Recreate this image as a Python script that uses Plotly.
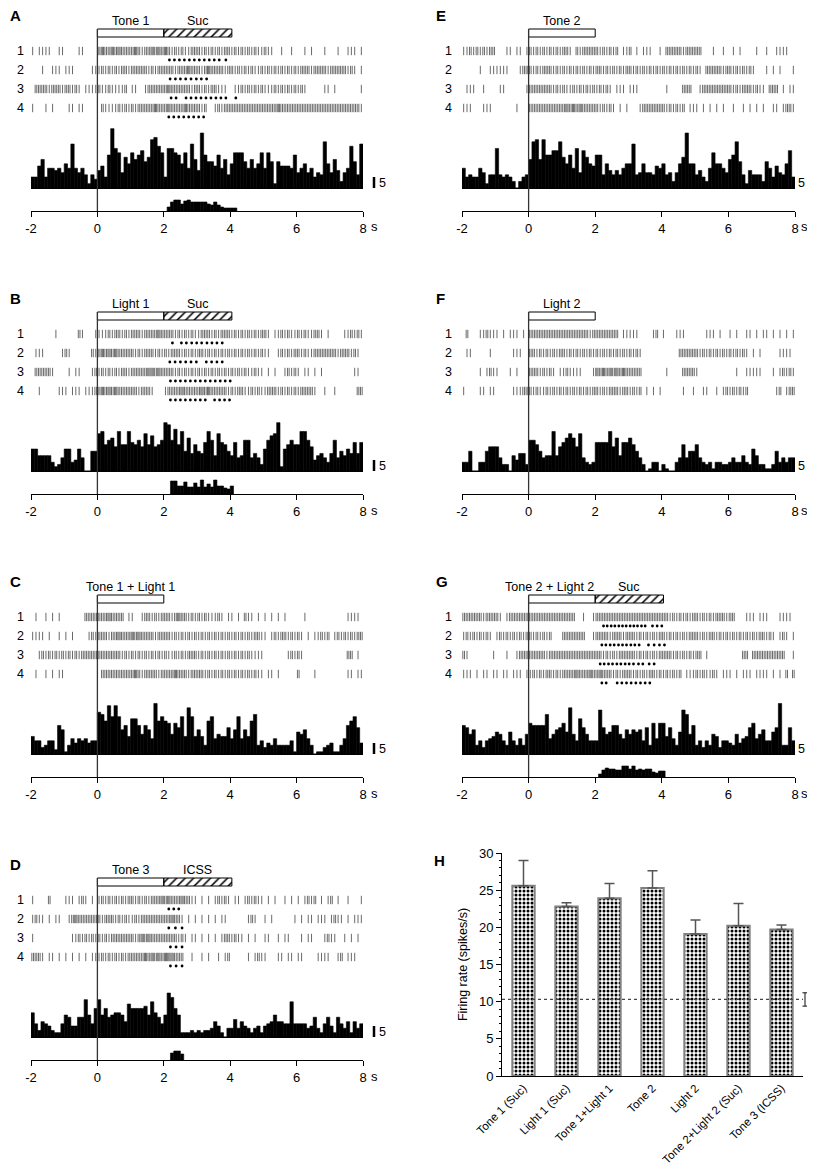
import plotly.graph_objects as go

# ---------------- DATA ----------------
BIN_W = 0.1
T0 = -2.0

# raster rows: each digit = number of spikes in a 0.1 s bin, from -2 s to 8 s (10 groups of 10 bins)
raster_A = [
    "1011110011 0000110000 2322323222 2321223232 3212121122 2121212122 1212121211 2110010010 0010100010 0010011101",
    "0001001110 1110000011 1212121221 2222212122 2221222322 2123222212 2121212112 1212121212 1222122221 2222212101",
    "0222212221 2212101111 2112111120 1100122222 2322222212 2121221110 0112121212 1112121212 1210000011 0100000001",
    "1000101000 0110110000 0211112121 2122222322 2322223222 2120012122 2222222222 2222322222 2222222222 2222222221",
]
raster_B = [
    "0000000100 0000210001 1112122121 2221222232 2221212121 1222121222 1212121212 2101121211 2121122101 0000112121",
    "0111000001 2100000021 2323232222 2121222121 2122212121 2212121212 1212121212 1100121212 2121122222 2212221210",
    "0222221000 0101100012 1212121221 2222233232 2221212121 2121212121 2121211211 0101001212 1011010100 0000000110",
    "0010000011 1011101112 2323232222 2212221000 1222232222 2323222221 2122112121 1222121212 1222210010 0100000022",
]
raster_C = [
    "0100101010 0000002222 2223222201 1001221212 2212322121 2121112101 1010211010 1010101000 0010000000 0000011110",
    "1111010010 1010000121 2221223222 3232222122 2212121212 1212121212 1212121221 1012122121 2101011212 0121212122",
    "0012121212 1212122222 2222222121 2121212121 2112121222 1212121212 1212121111 0000000121 2100000000 0000022010",
    "0100101011 0000000000 0222222222 2321222212 2223222122 2212121212 1212121211 0110100000 2000010000 0000011011",
]
raster_D = [
    "1000020000 1110121010 1212121212 2121212223 2322232211 0101012121 0110121211 0101001010 1012120101 2010010001",
    "1211010110 0123222222 2122212121 1212222222 2232210101 0101010110 0000012100 1010000001 0101101110 1211010111",
    "1000000000 0011212121 2121222222 2123232222 2222121011 0101010122 1211010100 1100101100 0101100012 1100101010",
    "2221011010 1010101011 1212121212 2222323232 3332220010 0101001012 0000010121 1000110110 1100001111 0012011100",
]
raster_E = [
    "1121212122 0001101101 2121212121 2210212222 2121212011 2010111001 0222221222 2200010010 0101000010 0100111100",
    "0000010011 1111000122 2121222121 2121212121 2212121212 2121212121 2121212121 2102222212 2121212100 0101010001",
    "0111001000 0110000001 2222222121 2112121212 1212101110 1110000000 0100002220 0122222222 2121222121 1022201011",
    "1110001110 0000001000 2222222222 2323232222 2121210101 0001222222 2121212011 1010101010 0100101010 1001101221",
]
raster_F = [
    "0200011211 1010111010 2222222222 2222222212 2222222011 1110000120 1000111000 0001110100 1010011010 1101010101",
    "0110000010 0000011100 2212121212 2121212121 2121212121 2121000000 0000022222 2121212121 2121210101 0000011110",
    "0000010121 1000101000 2221212101 1211110001 3232323232 2222000000 0100002222 1000000000 0010011111 0001012121",
    "1000011011 0000011122 2121121212 1212121212 2121222122 1212010101 0000001001 0011001012 1212120000 0000120122",
]
raster_G = [
    "2222221222 2101222222 2222222222 2222001001 2222222222 2222222222 2212121212 2121212221 2200011101 1100011110",
    "1212121210 1212121212 2121212000 2222222001 2222122212 2212121212 2121212122 2121221212 1212121212 2121012101",
    "2100000001 0001001222 2222212222 2222222222 2212121222 2212121212 2221212121 2201000000 0000220222 2222222001",
    "1110101101 1011011101 1212122121 2222322232 2322212122 2121212212 1212120111 2121121011 1010111011 1101010202",
]

# lick (reward) times under each raster row, s
dots_A = [
    [2.17, 2.32, 2.47, 2.62, 2.77, 2.92, 3.07, 3.22, 3.37, 3.52, 3.67, 3.87],
    [2.19, 2.35, 2.50, 2.66, 2.82, 2.98, 3.13, 3.29],
    [2.22, 2.37, 2.67, 2.82, 2.97, 3.12, 3.27, 3.42, 3.57, 3.72, 3.87, 4.17],
    [2.15, 2.30, 2.45, 2.60, 2.75, 2.90, 3.05, 3.20],
]
dots_B = [
    [2.26, 2.53, 2.68, 2.84, 2.99, 3.14, 3.30, 3.45, 3.60, 3.76],
    [2.18, 2.34, 2.50, 2.66, 2.82, 2.98, 3.28, 3.44, 3.60, 3.76],
    [2.20, 2.35, 2.50, 2.65, 2.80, 2.95, 3.10, 3.25, 3.40, 3.55, 3.70, 3.85, 4.00],
    [2.20, 2.35, 2.50, 2.65, 2.80, 2.95, 3.10, 3.25, 3.53, 3.68, 3.83, 3.98],
]
dots_C = [[], [], [], []]
dots_D = [
    [2.15, 2.30, 2.45],
    [2.15, 2.35, 2.55],
    [2.20, 2.37, 2.55],
    [2.20, 2.37, 2.55],
]
dots_E = [[], [], [], []]
dots_F = [[], [], [], []]
dots_G = [
    [2.25, 2.36, 2.48, 2.59, 2.71, 2.82, 2.93, 3.05, 3.16, 3.27, 3.39, 3.50, 3.72, 3.86, 4.00],
    [2.20, 2.32, 2.45, 2.57, 2.70, 2.82, 2.94, 3.07, 3.19, 3.32, 3.60, 3.77, 3.93, 4.08],
    [2.15, 2.27, 2.40, 2.52, 2.65, 2.77, 2.90, 3.02, 3.15, 3.30, 3.43, 3.62, 3.77],
    [2.20, 2.33, 2.66, 2.80, 2.94, 3.08, 3.22, 3.36, 3.50, 3.64],
]

# PSTH counts per 0.1 s bin, -2 s .. 8 s
psth_A = [5, 5, 10, 13, 5, 9, 9, 8, 9, 7, 11, 9, 20, 9, 7, 9, 6, 2, 6, 4,
          8, 10, 5, 15, 27, 18, 16, 7, 14, 11, 16, 13, 15, 17, 12, 14, 22, 23, 19, 16,
          5, 18, 18, 16, 15, 11, 16, 9, 20, 13, 8, 25, 15, 12, 12, 10, 15, 9, 13, 6,
          11, 16, 16, 16, 12, 9, 13, 9, 11, 16, 9, 16, 12, 2, 12, 10, 10, 10, 9, 15,
          7, 9, 11, 7, 9, 5, 7, 6, 21, 11, 7, 13, 8, 3, 7, 9, 19, 12, 6, 20]
psth_B = [10, 10, 7, 7, 7, 7, 4, 2, 3, 6, 10, 10, 4, 5, 10, 6, 0, 0, 9, 9,
          17, 18, 12, 14, 15, 11, 18, 12, 12, 18, 13, 12, 14, 11, 17, 12, 16, 11, 12, 14,
          22, 21, 14, 19, 12, 18, 9, 15, 8, 12, 9, 8, 13, 18, 14, 7, 17, 13, 12, 9,
          7, 13, 6, 7, 14, 14, 6, 8, 6, 3, 10, 14, 16, 17, 22, 2, 10, 12, 14, 12,
          12, 18, 18, 14, 11, 5, 7, 8, 6, 4, 8, 14, 6, 9, 7, 10, 8, 13, 8, 13]
psth_C = [8, 6, 6, 3, 4, 6, 6, 2, 13, 11, 1, 4, 7, 5, 7, 6, 7, 5, 6, 6,
          19, 18, 15, 22, 17, 22, 17, 11, 13, 8, 16, 16, 13, 9, 13, 11, 7, 23, 15, 17,
          15, 14, 9, 14, 12, 17, 8, 21, 17, 8, 11, 8, 4, 15, 17, 7, 9, 8, 8, 12,
          7, 11, 17, 7, 11, 8, 15, 18, 4, 6, 3, 5, 4, 7, 4, 4, 4, 4, 6, 1,
          10, 9, 11, 7, 4, 0, 1, 1, 3, 4, 5, 1, 1, 4, 7, 13, 15, 17, 12, 5]
psth_D = [11, 6, 3, 7, 6, 5, 3, 2, 2, 6, 10, 9, 5, 5, 9, 9, 17, 10, 6, 13,
          17, 10, 13, 9, 10, 11, 11, 10, 7, 15, 13, 13, 13, 13, 14, 10, 16, 11, 9, 6,
          10, 20, 18, 13, 10, 2, 2, 2, 3, 2, 3, 2, 3, 3, 4, 7, 5, 2, 0, 4,
          4, 8, 4, 7, 5, 4, 2, 4, 5, 2, 5, 6, 7, 10, 7, 7, 6, 6, 16, 6,
          6, 6, 6, 4, 5, 9, 4, 2, 6, 9, 5, 2, 9, 6, 4, 7, 2, 7, 4, 6]
psth_E = [9, 5, 6, 5, 5, 9, 7, 2, 6, 6, 18, 6, 5, 6, 5, 3, 0, 3, 5, 6,
          13, 21, 22, 13, 22, 15, 15, 17, 17, 21, 14, 11, 15, 9, 18, 7, 17, 14, 11, 10,
          15, 15, 6, 11, 8, 6, 8, 6, 9, 11, 11, 20, 6, 7, 11, 7, 7, 6, 10, 9,
          11, 6, 7, 3, 7, 11, 14, 25, 11, 11, 6, 8, 5, 3, 9, 16, 11, 11, 9, 7,
          13, 15, 21, 12, 6, 2, 8, 6, 6, 6, 3, 12, 9, 5, 10, 7, 6, 11, 17, 5]
psth_F = [4, 4, 9, 0, 0, 4, 4, 9, 11, 11, 11, 6, 3, 3, 0, 7, 5, 8, 8, 3,
          14, 14, 12, 9, 6, 7, 7, 18, 7, 11, 13, 15, 17, 15, 11, 17, 6, 4, 3, 4,
          13, 13, 13, 13, 18, 11, 15, 7, 13, 13, 15, 12, 9, 6, 3, 0, 1, 4, 4, 0,
          3, 1, 0, 0, 4, 6, 12, 6, 9, 9, 12, 6, 4, 3, 4, 1, 4, 4, 3, 3,
          4, 6, 4, 4, 7, 4, 3, 10, 7, 3, 3, 1, 1, 3, 9, 4, 6, 4, 6, 6]
psth_G = [13, 12, 9, 11, 4, 6, 3, 6, 7, 8, 10, 9, 6, 4, 10, 6, 4, 7, 4, 9,
          14, 13, 13, 13, 13, 18, 7, 9, 11, 12, 14, 10, 21, 9, 6, 16, 12, 9, 6, 6,
          6, 20, 12, 9, 10, 13, 13, 9, 7, 11, 9, 11, 10, 11, 6, 12, 4, 14, 7, 14,
          14, 8, 12, 7, 4, 10, 20, 18, 9, 13, 4, 6, 3, 6, 4, 9, 8, 3, 6, 6,
          5, 4, 9, 5, 7, 8, 12, 14, 7, 9, 11, 6, 6, 10, 12, 23, 4, 4, 12, 6]

# lick histograms (counts per 0.1 s bin) and their first-bin start time (s)
lick_A_start = 2.1
lick_A = [2, 4.5, 5.5, 5.5, 3.5, 5, 5.5, 4.5, 4.5, 4.5, 4.5, 4.5, 3.5, 3, 4.5, 3, 2, 1.5, 1.5, 1.5, 1.5]
lick_B_start = 2.2
lick_B = [6.5, 6.5, 4, 4, 6, 3.5, 3.5, 5.5, 3.5, 7, 3.5, 5, 3.5, 7, 4, 4, 3, 2.5, 4]
lick_D_start = 2.2
lick_D = [3.5, 4.5, 4.5, 3]
lick_G_start = 2.1
lick_G = [1.5, 3.5, 4.5, 4, 4, 3.5, 3.5, 5.5, 5.5, 4, 5.5, 3.5, 4, 3.5, 4, 4, 2.5, 2, 3, 3]

# stimulus epochs
stim_A = {"labels": ["Tone 1", "Suc"], "on": [0, 2], "off": [2, 4.05], "hatch": [False, True]}
stim_B = {"labels": ["Light 1", "Suc"], "on": [0, 2], "off": [2, 4.05], "hatch": [False, True]}
stim_C = {"labels": ["Tone 1 + Light 1"], "on": [0], "off": [2], "hatch": [False]}
stim_D = {"labels": ["Tone 3", "ICSS"], "on": [0, 2], "off": [2, 4.05], "hatch": [False, True]}
stim_E = {"labels": ["Tone 2"], "on": [0], "off": [2], "hatch": [False]}
stim_F = {"labels": ["Light 2"], "on": [0], "off": [2], "hatch": [False]}
stim_G = {"labels": ["Tone 2 + Light 2", "Suc"], "on": [0, 2], "off": [2, 4.05], "hatch": [False, True]}

# panel H
h_categories = ["Tone 1 (Suc)", "Light 1 (Suc)", "Tone 1+Light 1", "Tone 2", "Light 2",
                "Tone 2+Light 2 (Suc)", "Tone 3 (ICSS)"]
h_rates = [25.6, 22.8, 23.9, 25.3, 19.1, 20.2, 19.7]
h_sem = [3.4, 0.5, 2.0, 2.3, 1.9, 3.0, 0.6]
h_baseline = 10.3
h_baseline_sem = 0.9

x_ticks = [-2, 0, 2, 4, 6, 8]

# ---------------- LAYOUT HELPERS ----------------
PAGE_W, PAGE_H = 815, 1176
PAD = 8                       # default page margin around the plot div
W, H = PAGE_W - 2 * PAD, PAGE_H - 2 * PAD
FONT = "Liberation Sans, Arial, Helvetica, sans-serif"


def fx(p):
    return (p - PAD) / W


def fy(p):
    return 1 - (p - PAD) / H


def raster_times(s):
    out = []
    for g, grp in enumerate(s.split()):
        for j, ch in enumerate(grp):
            n = int(ch)
            b = T0 + (10 * g + j) * BIN_W
            for k in range(n):
                out.append(b + (k + 0.5) * BIN_W / n)
    return out


panels = [
    dict(letter="A", col=0, off=0, raster=raster_A, dots=dots_A, psth=psth_A, lick=lick_A, lick0=lick_A_start, stim=stim_A, lshift=[0, 0]),
    dict(letter="B", col=0, off=283, raster=raster_B, dots=dots_B, psth=psth_B, lick=lick_B, lick0=lick_B_start, stim=stim_B, lshift=[0, 0]),
    dict(letter="C", col=0, off=566, raster=raster_C, dots=dots_C, psth=psth_C, lick=[], lick0=2.0, stim=stim_C, lshift=[0]),
    dict(letter="D", col=0, off=849, raster=raster_D, dots=dots_D, psth=psth_D, lick=lick_D, lick0=lick_D_start, stim=stim_D, lshift=[0, 0]),
    dict(letter="E", col=1, off=0, raster=raster_E, dots=dots_E, psth=psth_E, lick=[], lick0=2.0, stim=stim_E, lshift=[0]),
    dict(letter="F", col=1, off=283, raster=raster_F, dots=dots_F, psth=psth_F, lick=[], lick0=2.0, stim=stim_F, lshift=[0]),
    dict(letter="G", col=1, off=566, raster=raster_G, dots=dots_G, psth=psth_G, lick=lick_G, lick0=lick_G_start, stim=stim_G, lshift=[-0.36, 0]),
]

fig = go.Figure()
layout = dict(template="none", width=W, height=H, margin=dict(l=0, r=0, t=0, b=0, pad=0, autoexpand=False),
              paper_bgcolor="white", plot_bgcolor="rgba(0,0,0,0)",
              showlegend=False, barmode="overlay", font=dict(family=FONT, color="black"))
annotations = []
shapes = []

ycount = [0]


def new_y():
    ycount[0] += 1
    n = ycount[0]
    return ("yaxis" if n == 1 else f"yaxis{n}"), ("y" if n == 1 else f"y{n}")


bin_centers = [T0 + (i + 0.5) * BIN_W for i in range(100)]
ROW_PX = [51, 70, 89, 108]

for pi, p in enumerate(panels):
    o = p["off"]
    X0, X1 = (31, 363) if p["col"] == 0 else (462, 795)
    xn = pi + 1
    xkey = "xaxis" if xn == 1 else f"xaxis{xn}"
    xref = "x" if xn == 1 else f"x{xn}"

    # y axes (time-axis subplot first so it is the main one)
    lk, lref = new_y()
    rk, rref = new_y()
    pk, pref = new_y()
    # lick axis: 2 px per count, sits on the time axis at px 211
    l_top, l_bot = 195 + o, 211 + o
    layout[lk] = dict(domain=[fy(l_bot), fy(l_top)], range=[0, 8], anchor=xref,
                      visible=False, automargin=False, showgrid=False, zeroline=False)
    # raster axis: rows 1..4 at px 51..108 (19 px/row)
    r_top_px, r_bot_px = 22 + o, 122 + o
    r_lo = 1 - (ROW_PX[0] + o - r_top_px) / 19.0
    r_hi = 1 + (r_bot_px - (ROW_PX[0] + o)) / 19.0
    layout[rk] = dict(domain=[fy(r_bot_px), fy(r_top_px)], range=[r_hi, r_lo], anchor=xref,
                      visible=False, automargin=False, showgrid=False, zeroline=False)
    # psth axis: 2.2 px per count, zero at px 188
    p_top, p_bot = 122 + o, 188.7 + o
    layout[pk] = dict(domain=[fy(p_bot), fy(p_top)], range=[-0.3, (p_bot - p_top) / 2.2 - 0.3],
                      anchor=xref, showgrid=False, showticklabels=False, ticks="",
                      zeroline=True, zerolinecolor="black", zerolinewidth=1, showline=False,
                      automargin=False)
    layout[xkey] = dict(domain=[fx(X0), fx(X1)], range=[-2, 8], anchor=lref,
                        showgrid=False, zeroline=False, showline=True, linecolor="black",
                        linewidth=1, ticks="outside", ticklen=5, tickcolor="black", tickwidth=1,
                        tickvals=x_ticks, ticktext=[str(v) for v in x_ticks],
                        tickfont=dict(size=13, family=FONT), automargin=False, mirror=False)

    # lick histogram (time-axis subplot)
    lx = [p["lick0"] + (i + 0.5) * BIN_W for i in range(len(p["lick"]))]
    fig.add_trace(go.Bar(x=lx, y=p["lick"], width=BIN_W, xaxis=xref, yaxis=lref,
                         marker=dict(color="black", line=dict(color="black", width=0.6)),
                         hoverinfo="skip"))

    # stimulus bars (on raster axis, above row 1)
    st = p["stim"]
    ystim = 1 - (ROW_PX[0] - 33) / 19.0
    fig.add_trace(go.Bar(
        x=[b - a for a, b in zip(st["on"], st["off"])], base=st["on"],
        y=[ystim] * len(st["on"]), orientation="h", width=[8 / 19.0] * len(st["on"]),
        marker=dict(color="white", line=dict(color="black", width=1),
                    pattern=dict(shape=["/" if h else "" for h in st["hatch"]],
                                 fgcolor="black", size=6, solidity=0.25)),
        xaxis=xref, yaxis=rref, hoverinfo="skip"))
    for lab, a, b, sh in zip(st["labels"], st["on"], st["off"], p["lshift"]):
        annotations.append(dict(text=lab, x=(a + b) / 2 + sh, xref=xref, y=fy(21 + o), yref="paper",
                                showarrow=False, xanchor="center", yanchor="middle",
                                font=dict(size=12.5, family=FONT)))

    # raster ticks
    tx, ty = [], []
    for ri, row in enumerate(p["raster"]):
        ts = raster_times(row)
        tx += ts
        ty += [ri + 1] * len(ts)
    fig.add_trace(go.Scatter(x=tx, y=ty, mode="markers", xaxis=xref, yaxis=rref,
                             marker=dict(symbol="line-ns", size=6, color="#6a6a6a",
                                         line=dict(color="#6a6a6a", width=1)),
                             hoverinfo="skip"))
    # lick dots
    dx, dy = [], []
    for ri, d in enumerate(p["dots"]):
        dx += d
        dy += [ri + 1 + 9 / 19.0] * len(d)
    if dx:
        fig.add_trace(go.Scatter(x=dx, y=dy, mode="markers", xaxis=xref, yaxis=rref,
                                 marker=dict(symbol="circle", size=2.8, color="black"),
                                 hoverinfo="skip"))
    # row labels
    for ri in range(4):
        annotations.append(dict(text=str(ri + 1), x=fx(20 if p["col"] == 0 else 448), xref="paper",
                                y=ri + 1, yref=rref, showarrow=False, xanchor="center",
                                yanchor="middle", font=dict(size=12.5, family=FONT)))

    # PSTH
    fig.add_trace(go.Bar(x=bin_centers, y=p["psth"], width=BIN_W, xaxis=xref, yaxis=pref,
                         marker=dict(color="black", line=dict(color="black", width=0.6)),
                         hoverinfo="skip"))

    # stimulus onset line
    shapes.append(dict(type="line", xref=xref, yref="paper", x0=0, x1=0,
                       y0=fy(211 + o), y1=fy(29 + o), line=dict(color="#333333", width=1.3)))
    # scale bar (5 counts) + label
    if p["col"] == 0:
        shapes.append(dict(type="line", xref="paper", yref=pref, x0=fx(374), x1=fx(374),
                           y0=0, y1=5, line=dict(color="black", width=2.5)))
        annotations.append(dict(text="5", x=fx(377), xref="paper", y=fy(183 + o), yref="paper",
                                showarrow=False, xanchor="left", yanchor="middle",
                                font=dict(size=12.5, family=FONT)))
        sx = 369
    else:
        annotations.append(dict(text="5", x=1.0, xref="paper", y=fy(183 + o), yref="paper",
                                showarrow=False, xanchor="right", yanchor="middle",
                                font=dict(size=12.5, family=FONT)))
        sx = 799
    annotations.append(dict(text="s", x=fx(sx), xref="paper", y=fy(227 + o), yref="paper",
                            showarrow=False, xanchor="left", yanchor="middle",
                            font=dict(size=13, family=FONT)))
    # panel letter
    annotations.append(dict(text=f"<b>{p['letter']}</b>", x=fx(8 if p["col"] == 0 else 434), xref="paper",
                            y=fy(15 + o), yref="paper", showarrow=False, xanchor="left",
                            yanchor="middle", font=dict(size=15, family=FONT)))

# ---------------- PANEL H ----------------
hx = len(panels) + 1
hxkey, hxref = f"xaxis{hx}", f"x{hx}"
hyk, hyref = new_y()
layout[hxkey] = dict(domain=[fx(502), fx(803)], range=[-0.5, 6.5], anchor=hyref,
                     tickvals=list(range(len(h_categories))), ticktext=h_categories,
                     tickangle=-45, ticks="", showline=True, linecolor="black", linewidth=1,
                     showgrid=False, zeroline=False, tickfont=dict(size=11.5, family=FONT),
                     automargin=False)
layout[hyk] = dict(domain=[fy(1076), fy(853)], range=[0, 30], anchor=hxref,
                   tickvals=[0, 5, 10, 15, 20, 25, 30], ticks="outside", ticklen=5,
                   tickcolor="black", showline=True, linecolor="black", linewidth=1,
                   showgrid=False, zeroline=False, tickfont=dict(size=13, family=FONT),
                   minor=dict(dtick=1, ticks="outside", ticklen=2.5, tickcolor="black", showgrid=False),
                   title=dict(text="Firing rate (spikes/s)", font=dict(size=12.5, family=FONT), standoff=8),
                   automargin=False)
fig.add_trace(go.Bar(x=list(range(len(h_categories))), y=h_rates, width=0.52,
                     xaxis=hxref, yaxis=hyref,
                     marker=dict(color="white", line=dict(color="#808080", width=2),
                                 pattern=dict(shape=".", fgcolor="black", size=4, solidity=0.45)),
                     error_y=dict(type="data", symmetric=False, array=h_sem,
                                  arrayminus=[0] * len(h_sem), color="#555555",
                                  thickness=1.5, width=5),
                     hoverinfo="skip"))
fig.add_trace(go.Scatter(x=[-0.5, 6.5], y=[h_baseline, h_baseline], mode="lines",
                         xaxis=hxref, yaxis=hyref,
                         line=dict(color="#444444", width=1.3, dash="dot"), hoverinfo="skip"))
# baseline mean +/- SEM marker to the right of the axis
bx = fx(805)
blo, bhi = h_baseline - h_baseline_sem, h_baseline + h_baseline_sem
for (x0, x1, y0, y1) in [(bx, bx, blo, bhi), (bx - 2.5 / W, bx + 2.5 / W, blo, blo),
                         (bx - 2.5 / W, bx + 2.5 / W, bhi, bhi)]:
    shapes.append(dict(type="line", xref="paper", yref=hyref, x0=x0, x1=x1, y0=y0, y1=y1,
                       line=dict(color="#333333", width=1.2)))
annotations.append(dict(text="<b>H</b>", x=fx(432), xref="paper", y=fy(860), yref="paper",
                        showarrow=False, xanchor="left", yanchor="middle",
                        font=dict(size=15, family=FONT)))

layout["annotations"] = annotations
layout["shapes"] = shapes
fig.update_layout(**layout)
fig.write_html("out.html")
